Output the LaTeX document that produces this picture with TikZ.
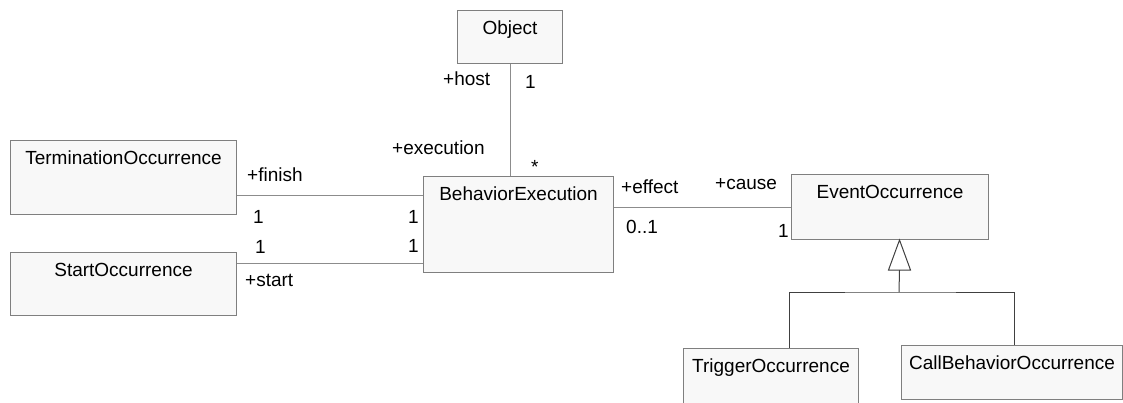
\documentclass[tikz,border=0pt]{standalone}
\usepackage{fontspec}
\setmainfont{Liberation Sans}
\definecolor{boxline}{HTML}{7F7F7F}
\definecolor{boxfill}{HTML}{F8F8F8}
\definecolor{assocline}{HTML}{8C8C8C}
\definecolor{genline}{HTML}{404040}
\tikzset{
  classbox/.style={draw=boxline, fill=boxfill, line width=1pt, anchor=north west,
    inner xsep=0pt, inner ysep=0pt, text height=24pt, font=\fontsize{19}{22}\selectfont},
  rolelabel/.style={anchor=base west, inner sep=0pt, font=\fontsize{19}{22}\selectfont},
  assoc/.style={draw=assocline, line width=1pt},
  general/.style={draw=genline, line width=1pt}
}
\begin{document}
\begin{tikzpicture}[x=1pt,y=-1pt]
\clip (0,0) rectangle (1123,402);

% Draw classes
\node[classbox, minimum width=105pt, text depth=29pt] (object) at (457,10) {Object};
\node[classbox, minimum width=226pt, text depth=50pt] (termination) at (10,140) {TerminationOccurrence};
\node[classbox, minimum width=226pt, text depth=39pt] (start) at (10,252) {StartOccurrence};
\node[classbox, minimum width=190pt, text depth=72pt] (behavior) at (423,176) {BehaviorExecution};
\node[classbox, minimum width=197pt, text depth=41pt] (event) at (791,174) {EventOccurrence};
\node[classbox, minimum width=175pt, text depth=60pt] (trigger) at (683,348) {TriggerOccurrence};
\node[classbox, minimum width=221pt, text depth=30pt] (callbehavior) at (901,345) {CallBehaviorOccurrence};

% Draw associations
\draw[assoc] (object.south) -- (object.south |- behavior.north);
\draw[assoc] ([yshift=-18pt]termination.east) -- ([yshift=-18pt]termination.east -| behavior.west);
\draw[assoc] ([yshift=20.5pt]start.east) -- ([yshift=20.5pt]start.east -| behavior.west);
\draw[assoc] (event.west) -- (event.west -| behavior.east);

% Draw generalization
\coordinate (tip) at ([xshift=9.5pt]event.south);
\coordinate (fork) at (899,292);
\draw[general, fill=white] (tip) -- ++(-11,30) -- ++(22,0) -- cycle;
\draw[general] ([yshift=-30pt]tip) -- (fork);
\draw[general] ([xshift=18.5pt]trigger.north) |- (fork) -| ([xshift=2.5pt]callbehavior.north);

% Label roles and multiplicities
\node[rolelabel] (hostrole) at (443,85) {+host};
\node[rolelabel] (hostmult) at (525,88) {1};
\node[rolelabel] (execrole) at (392,154) {+execution};
\node[rolelabel] (execmult) at (531,173) {*};
\node[rolelabel] (finishrole) at (247,181) {+finish};
\node[rolelabel] (finishmult) at (253,223) {1};
\node[rolelabel] (finishmultb) at (408,223) {1};
\node[rolelabel] (startmult) at (255,253) {1};
\node[rolelabel] (startmultb) at (408,252) {1};
\node[rolelabel] (startrole) at (245,286) {+start};
\node[rolelabel] (effectrole) at (621,193) {+effect};
\node[rolelabel] (causerole) at (715,189) {+cause};
\node[rolelabel] (effectmult) at (626,233) {0..1};
\node[rolelabel] (causemult) at (778,237) {1};
\end{tikzpicture}
\end{document}
